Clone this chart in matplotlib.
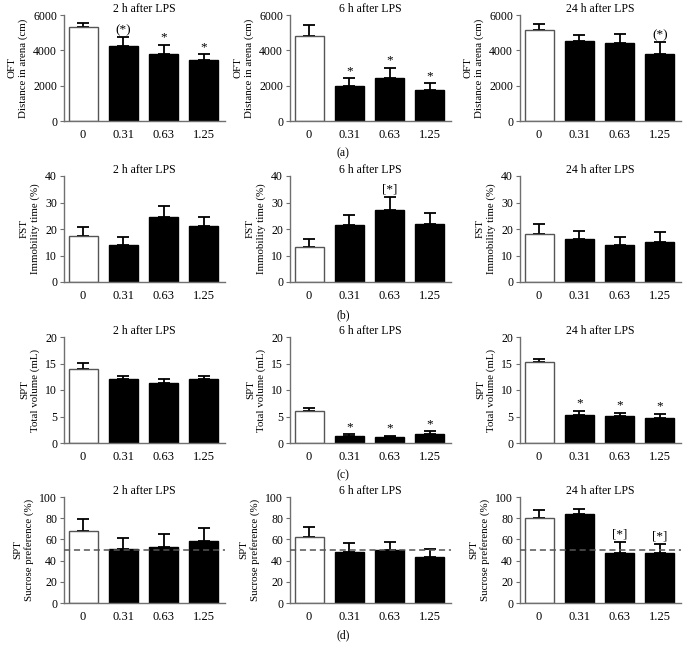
import matplotlib.pyplot as plt
import numpy as np

plt.rcParams['font.family'] = ['Liberation Serif', 'DejaVu Serif']

# Doses (x categories)
doses = ['0', '0.31', '0.63', '1.25']
titles = ['2 h after LPS', '6 h after LPS', '24 h after LPS']

# OFT distance (cm): means and upper error (SEM)
oft_mean = [[5340, 4240, 3820, 3450],
            [4830, 1990, 2420, 1740],
            [5150, 4540, 4390, 3820]]
oft_err = [[230, 490, 510, 340],
           [600, 420, 600, 400],
           [320, 320, 530, 630]]
oft_marks = [['', '(*)', '*', '*'],
             ['', '*', '*', '*'],
             ['', '', '', '(*)']]

# FST immobility time (%)
fst_mean = [[17.5, 13.9, 24.6, 21.3],
            [13.1, 21.5, 27.1, 21.9],
            [18.3, 16.3, 13.8, 15.0]]
fst_err = [[3.2, 3.1, 4.0, 3.2],
           [3.0, 3.8, 5.1, 4.0],
           [3.7, 3.0, 3.2, 4.0]]
fst_marks = [['', '', '', ''],
             ['', '', '[*]', ''],
             ['', '', '', '']]

# SPT total volume (mL)
vol_mean = [[14.0, 12.0, 11.3, 12.0],
            [6.1, 1.4, 1.1, 1.75],
            [15.2, 5.3, 5.05, 4.75]]
vol_err = [[1.1, 0.65, 0.8, 0.6],
           [0.55, 0.3, 0.3, 0.5],
           [0.6, 0.8, 0.65, 0.75]]
vol_marks = [['', '', '', ''],
             ['', '*', '*', '*'],
             ['', '*', '*', '*']]

# SPT sucrose preference (%)
suc_mean = [[67.8, 50.6, 53.1, 58.4],
            [62.1, 48.1, 50.0, 43.5],
            [80.3, 84.4, 46.9, 47.2]]
suc_err = [[11.0, 11.0, 12.2, 11.9],
           [10.0, 8.4, 7.5, 7.5],
           [7.2, 4.3, 10.9, 8.8]]
suc_marks = [['', '', '', ''],
             ['', '', '', ''],
             ['', '', '[*]', '[*]']]

rows = [
    (oft_mean, oft_err, oft_marks, 'OFT\nDistance in arena (cm)', [0, 2000, 4000, 6000], 6000, '(a)'),
    (fst_mean, fst_err, fst_marks, 'FST\nImmobility time (%)', [0, 10, 20, 30, 40], 40, '(b)'),
    (vol_mean, vol_err, vol_marks, 'SPT\nTotal volume (mL)', [0, 5, 10, 15, 20], 20, '(c)'),
    (suc_mean, suc_err, suc_marks, 'SPT\nSucrose preference (%)', [0, 20, 40, 60, 80, 100], 100, '(d)'),
]

W, H = 686, 657
fig = plt.figure(figsize=(W / 100, H / 100), dpi=100)

lefts = [64, 290, 520]
tops = [15, 176, 337, 497]
label_y = [153, 315, 475, 635]
ax_w, ax_h = 161, 106
spine_col = '#707070'

x = np.arange(len(doses))
for r, (means, errs, marks, ylab, yticks, ymax, plabel) in enumerate(rows):
    for c in range(3):
        ax = fig.add_axes([lefts[c] / W, 1 - (tops[r] + ax_h) / H, ax_w / W, ax_h / H])
        m = means[c]
        e = errs[c]
        colors = ['white', 'black', 'black', 'black']
        ax.bar(x, m, width=0.72, color=colors, edgecolor=['#555555', 'black', 'black', 'black'],
               linewidth=1.0, zorder=2)
        ax.errorbar(x, m, yerr=[np.zeros(4), e], fmt='none', ecolor='black',
                    elinewidth=1.3, capsize=4, capthick=1.3, zorder=1)
        for i, t in enumerate(marks[c]):
            if t:
                ax.text(x[i], m[i] + e[i] + ymax * 0.01, t, ha='center', va='bottom',
                        fontsize=9.5)
        if r == 3:
            ax.axhline(50, color='#555555', linestyle=(0, (4, 2.5)), linewidth=1.1, zorder=3)
        ax.set_xlim(-0.475, 3.525)
        ax.set_ylim(0, ymax)
        ax.set_yticks(yticks)
        ax.set_xticks(x)
        ax.set_xticklabels(doses)
        ax.spines['top'].set_visible(False)
        ax.spines['right'].set_visible(False)
        ax.spines['left'].set_color(spine_col)
        ax.spines['bottom'].set_color(spine_col)
        ax.spines['left'].set_linewidth(1.0)
        ax.spines['bottom'].set_linewidth(1.0)
        ax.tick_params(axis='y', length=3, color=spine_col, labelsize=8.5, pad=2)
        ax.tick_params(axis='x', length=0, labelsize=9, pad=6)
        ax.set_ylabel(ylab, fontsize=7.8, linespacing=1.15, labelpad=4)
        ax.set_title(titles[c], fontsize=8.5, pad=0)
    fig.text(0.5, 1 - label_y[r] / H, plabel, ha='center', va='center', fontsize=8.5)

fig.savefig('out.png', dpi=100)
